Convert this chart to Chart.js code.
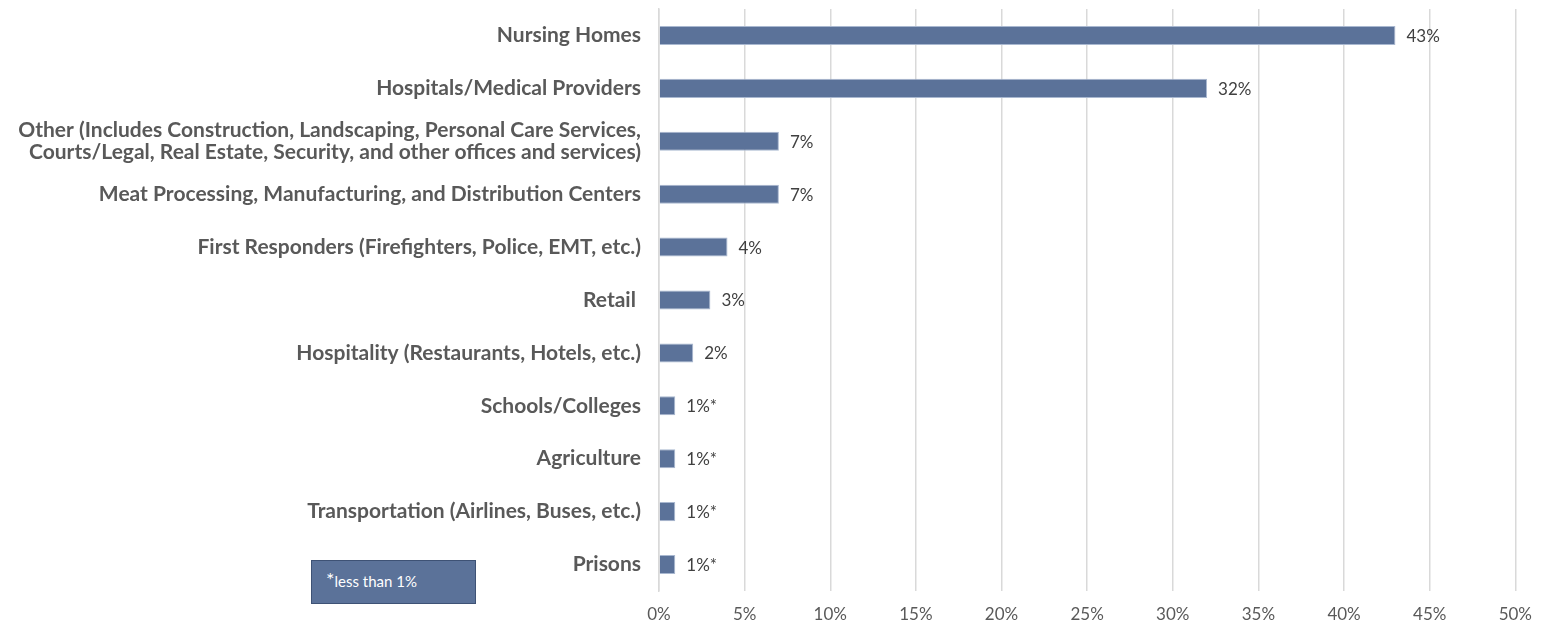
<!DOCTYPE html>
<html>
<head>
<meta charset="utf-8">
<script src="https://cdn.jsdelivr.net/npm/chart.js@4"></script>
<style>
    body { margin: 0; background: #fff; }
    .wrap { position: relative; width: 1545px; height: 627px; }
    canvas { display: block; }
    .note {
        position: absolute; left: 311px; top: 560px; width: 165px; height: 44px;
        background: #5b7299; border: 1px solid #3e5275; color: #fff;
        font-family: Lato, sans-serif; font-size: 15px; box-sizing: border-box;
        padding: 11px 0 0 14px;
    }
    .note span { font-size: 20px; vertical-align: top; line-height: 14px; }
</style>
</head>
<body>
<div class="wrap">
    <canvas id="sectorChart" width="1545" height="627"></canvas>
    <div class="note"><span>*</span>less than 1%</div>
</div>
<script>
const categories = [
    'Nursing Homes',
    'Hospitals/Medical Providers',
    ['Other (Includes Construction, Landscaping, Personal Care Services,', 'Courts/Legal, Real Estate, Security, and other offices and services)'],
    'Meat Processing, Manufacturing, and Distribution Centers',
    'First Responders (Firefighters, Police, EMT, etc.)',
    'Retail ',
    'Hospitality (Restaurants, Hotels, etc.)',
    'Schools/Colleges',
    'Agriculture',
    'Transportation (Airlines, Buses, etc.)',
    'Prisons'
];
const shares = [43, 32, 7, 7, 4, 3, 2, 0.95, 0.95, 0.95, 0.95];
const shareLabels = ['43%', '32%', '7%', '7%', '4%', '3%', '2%', '1%*', '1%*', '1%*', '1%*'];
const xTicks = [0, 5, 10, 15, 20, 25, 30, 35, 40, 45, 50];

const valueLabels = {
    id: 'valueLabels',
    afterDatasetsDraw(chart) {
        const c = chart.ctx;
        const meta = chart.getDatasetMeta(0);
        c.save();
        c.font = '17px Lato, sans-serif';
        c.fillStyle = '#404040';
        c.textBaseline = 'middle';
        meta.data.forEach((bar, i) => {
            c.fillText(shareLabels[i], bar.x + 11, bar.y + 1);
        });
        c.restore();
    }
};

const ctx = document.getElementById('sectorChart').getContext('2d');
new Chart(ctx, {
    type: 'bar',
    data: {
        labels: categories,
        datasets: [{
            data: shares,
            backgroundColor: '#5b7299',
            borderColor: '#a9b8d0',
            borderWidth: 1,
            categoryPercentage: 1,
            barPercentage: 0.36
        }]
    },
    plugins: [valueLabels],
    options: {
        indexAxis: 'y',
        responsive: false,
        animation: false,
        layout: { padding: { top: 9, right: 10, bottom: 3, left: 0 } },
        plugins: {
            legend: { display: false },
            tooltip: { enabled: false }
        },
        scales: {
            x: {
                min: 0,
                max: 50,
                afterBuildTicks: axis => { axis.ticks = xTicks.map(v => ({ value: v })); },
                afterFit: axis => {
                    axis.height = 33;
                    axis.paddingLeft = 0;
                },
                grid: { color: '#d9d9d9', lineWidth: 1.5, drawTicks: false },
                border: { display: false },
                ticks: {
                    padding: 13,
                    color: '#595959',
                    font: { family: 'Lato', size: 17 },
                    callback: v => v + '%'
                }
            },
            y: {
                afterFit: axis => {
                    axis.width = 659;
                    axis.paddingTop = 0;
                    axis.paddingBottom = 0;
                },
                grid: { display: false, drawTicks: false },
                border: { color: '#d9d9d9', width: 1.5 },
                ticks: {
                    padding: 18,
                    color: '#595959',
                    font: { family: 'Lato', size: 21, weight: 'bold', lineHeight: 1.05 }
                }
            }
        }
    }
});
</script>
</body>
</html>
